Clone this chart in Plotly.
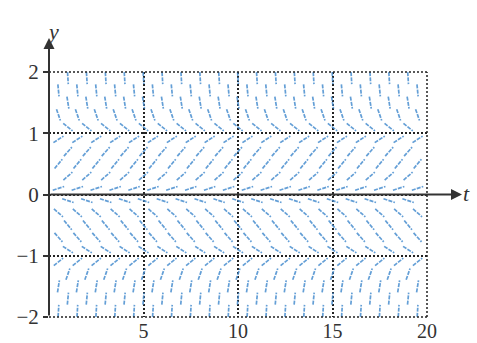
import math
import plotly.graph_objects as go

# ---- data ----
# rows of the slope field (y values), top to bottom
Y_ROWS = [1.9, 1.7, 1.5, 1.3, 1.1, 0.9, 0.7, 0.5, 0.3, 0.1,
          -0.1, -0.3, -0.5, -0.7, -0.9, -1.1, -1.3, -1.5, -1.7, -1.9]
# slope dy/dt shown on each row (estimated from the marks)
SLOPES = [-5.0, -3.2, -1.9, -0.9, -0.25, 0.2, 0.35, 0.37, 0.27, 0.1,
          -0.1, -0.27, -0.37, -0.35, -0.2, 0.25, 0.9, 1.9, 3.2, 5.0]
# t positions of the marks (rows alternate between these two sets)
T_INT = [1, 2, 3, 4, 5, 6, 7, 8, 9, 10, 11, 12, 13, 14, 15, 16, 17, 18, 19]
T_HALF = [0.5, 1.5, 2.5, 3.5, 4.5, 5.5, 6.5, 7.5, 8.5, 9.5, 10.5, 11.5,
          12.5, 13.5, 14.5, 15.5, 16.5, 17.5, 18.5, 19.5]
X_TICKS = [5, 10, 15, 20]
Y_TICKS = [-2, -1, 0, 1, 2]
Y_TICKTEXT = ["\u22122", "\u22121", "0", "1", "2"]
T_RANGE = [0, 20]
Y_RANGE = [-2, 2]

# ---- layout geometry ----
W, H = 477, 343
ML, MR, MT, MB = 49, 50, 72, 26
pw, ph = W - ML - MR, H - MT - MB
kx = pw / (T_RANGE[1] - T_RANGE[0])
ky = ph / (Y_RANGE[1] - Y_RANGE[0])
SEG = 12  # mark length in pixels

xs, ys = [], []
for i, (yv, s) in enumerate(zip(Y_ROWS, SLOPES)):
    ts = T_INT if i % 2 == 0 else T_HALF
    px, py = 1.0, s * ky / kx
    n = math.hypot(px, py)
    dt = (px / n) * SEG / 2 / kx
    dy = (py / n) * SEG / 2 / ky
    for tv in ts:
        xs += [tv - dt, tv + dt, None]
        ys += [yv - dy, yv + dy, None]

fig = go.Figure()
fig.add_trace(go.Scatter(
    x=xs, y=ys, mode="lines",
    line=dict(color="#4a8fd0", width=1.7, dash="4px,1.2px"),
    opacity=0.85, hoverinfo="skip", showlegend=False))

serif = "Liberation Serif"
axcol = "#333333"
gridcol = "#222222"
griddash = "2px,2px"

fig.update_layout(
    width=W, height=H,
    margin=dict(l=ML, r=MR, t=MT, b=MB),
    paper_bgcolor="white", plot_bgcolor="white",
    showlegend=False,
    xaxis=dict(range=T_RANGE, tickvals=X_TICKS, showgrid=True,
               gridcolor=gridcol, griddash=griddash, gridwidth=1.5,
               zeroline=False, showline=False, ticks="", automargin=False,
               tickfont=dict(family=serif, size=20, color=axcol)),
    yaxis=dict(range=Y_RANGE, tickvals=Y_TICKS, ticktext=Y_TICKTEXT,
               showgrid=True, gridcolor=gridcol, griddash=griddash,
               gridwidth=1.5, zeroline=False, showline=False,
               ticks="outside", ticklen=5, tickwidth=2, tickcolor=axcol,
               automargin=False,
               tickfont=dict(family=serif, size=21, color=axcol)),
)

# dotted frame on the outer edges (top, bottom, right)
frame = dict(color=gridcol, width=1.5, dash=griddash)
fig.add_shape(type="line", xref="paper", yref="paper", x0=0, x1=1, y0=1, y1=1, line=frame)
fig.add_shape(type="line", xref="paper", yref="paper", x0=0, x1=1, y0=0, y1=0, line=frame)
fig.add_shape(type="line", xref="paper", yref="paper", x0=1, x1=1, y0=0, y1=1, line=frame)

# axis arrows
top_px = 38
fig.add_annotation(x=0, y=(ph + MT - top_px) / ph, xref="paper", yref="paper",
                   ax=0, ay=ph + MT - top_px, axref="pixel", ayref="pixel",
                   text="", showarrow=True, arrowhead=2, arrowsize=1.1,
                   arrowwidth=2, arrowcolor=axcol, standoff=0)
right_px = 462
fig.add_annotation(x=(right_px - ML) / pw, y=0.5, xref="paper", yref="paper",
                   ax=-(right_px - ML), ay=0, text="", showarrow=True,
                   arrowhead=2, arrowsize=1.1, arrowwidth=2,
                   arrowcolor=axcol, standoff=0)
# axis titles
fig.add_annotation(x=(45 - ML) / pw, y=(ph + MT - 17) / ph, xref="paper",
                   yref="paper", text="<i>y</i>", showarrow=False,
                   font=dict(family=serif, size=22, color=axcol))
fig.add_annotation(x=(472 - ML) / pw, y=(ph + MT - 193) / ph, xref="paper",
                   yref="paper", text="<i>t</i>", showarrow=False,
                   font=dict(family=serif, size=22, color=axcol))

fig.write_html("out.html")
